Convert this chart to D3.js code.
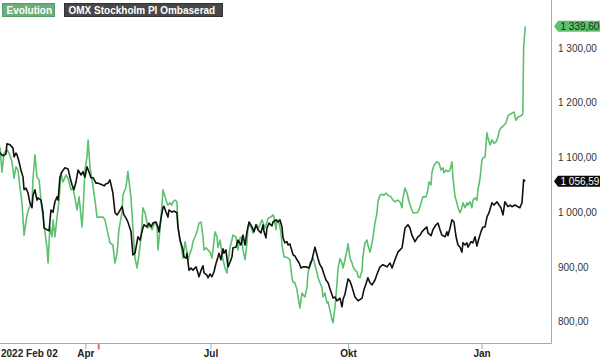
<!DOCTYPE html>
<html><head><meta charset="utf-8">
<script src="https://cdn.jsdelivr.net/npm/d3@7"></script>
<style>body{margin:0;background:#fff}svg{display:block;font-family:"Liberation Sans",Arial,sans-serif}</style>
</head><body><svg id="c" width="600" height="359"></svg>
<script>
// ---- data (x = trading day since 2022-02-02, y = index value) ----
const seriesNames = ["Evolution", "OMX Stockholm PI Ombaserad"];
const evolution = [[0,1118],[1.1,1117],[2.0,1073],[3.0,1108],[4.4,1114],[5.4,1108],[6.8,1092],[7.8,1062],[8.7,1083],[9.7,1077],[10.6,1046],[11.6,1017],[12.6,958],[14.0,995],[15.0,1008],[16.4,1017],[16.9,1062],[17.8,1105],[18.8,1064],[19.8,1059],[21.2,1004],[21.7,991],[22.6,964],[23.6,935],[24.1,907],[25.0,973],[26.0,955],[26.5,986],[27.4,955],[28.4,991],[29.4,1022],[30.3,1072],[31.3,1055],[32.7,1068],[33.7,1062],[35.1,1041],[36.1,1044],[37.0,1026],[38.0,1004],[39.0,1028],[40.4,973],[40.9,1004],[41.8,1077],[42.8,1101],[43.3,1132],[44.2,1083],[45.2,1059],[46.6,1022],[47.6,991],[49.0,991],[50.5,991],[51.4,986],[52.4,968],[53.8,944],[55.2,940],[56.2,907],[57.2,925],[58.1,968],[59.6,1000],[60.0,1031],[61.5,1046],[62.4,1074],[63.9,1026],[64.8,971],[65.8,916],[66.8,898],[67.7,922],[68.7,953],[69.6,1008],[70.6,999],[71.5,982],[72.0,971],[73.0,977],[74.0,968],[74.4,973],[75.4,982],[76.4,973],[76.8,931],[77.8,968],[78.8,1017],[79.2,1041],[80.2,1028],[81.1,1017],[81.6,1013],[82.6,1017],[83.5,1013],[84.0,1019],[85.0,1022],[85.9,1019],[86.4,973],[87.4,949],[88.3,931],[88.8,916],[89.8,946],[90.7,927],[91.2,913],[92.2,925],[93.1,935],[93.6,946],[94.6,955],[95.5,964],[96.5,980],[97.5,982],[98.4,955],[98.9,931],[99.9,935],[100.8,931],[101.8,927],[102.7,916],[103.2,931],[104.2,964],[105.1,955],[105.6,936],[106.6,949],[107.5,925],[108.0,913],[109.0,898],[109.9,889],[110.4,907],[111.4,936],[112.3,949],[112.8,958],[114.2,955],[115.2,931],[116.2,953],[117.1,955],[117.6,931],[118.6,913],[119.5,944],[120.0,973],[121.0,977],[121.9,968],[122.4,962],[123.4,971],[124.3,977],[124.8,968],[125.8,978],[126.7,986],[128.1,971],[129.1,982],[129.6,989],[131.0,991],[132.0,995],[132.5,991],[133.4,968],[133.9,986],[134.9,980],[135.8,964],[136.3,940],[137.3,918],[138.2,918],[139.2,916],[140.1,913],[141.1,880],[141.6,872],[142.5,871],[143.5,858],[144.0,845],[144.9,825],[145.9,852],[147.3,845],[148.3,863],[148.8,889],[149.7,907],[150.7,913],[151.2,916],[152.1,904],[153.1,889],[153.6,880],[154.5,871],[155.5,862],[156.0,845],[156.9,852],[157.9,834],[158.4,836],[159.3,821],[160.3,803],[160.8,798],[161.7,825],[162.7,871],[163.2,898],[164.1,915],[165.1,907],[165.6,898],[166.5,913],[167.5,931],[168.0,942],[168.9,916],[169.9,907],[170.4,900],[171.3,894],[172.3,891],[172.8,882],[173.7,880],[174.7,894],[175.1,918],[176.1,944],[177.1,949],[177.5,940],[178.5,927],[179.5,944],[179.9,953],[180.9,980],[181.9,999],[182.3,1019],[183.3,1031],[184.3,1033],[185.2,1031],[186.2,1035],[187.1,1031],[188.6,1028],[189.5,1022],[190.5,1019],[191.9,1022],[192.9,1019],[193.9,1008],[194.3,1026],[195.3,1044],[196.3,1035],[197.2,1019],[198.2,1008],[199.1,999],[200.6,999],[201.5,1000],[202.5,1010],[203.4,1022],[203.9,1028],[205.4,1028],[206.3,1041],[206.8,1055],[207.8,1050],[208.2,1072],[209.2,1086],[210.6,1092],[211.6,1090],[212.6,1077],[213.5,1081],[214.0,1072],[215.0,1077],[215.9,1074],[216.9,1077],[217.8,1092],[218.3,1064],[219.3,1028],[220.2,1017],[220.7,1008],[221.7,999],[222.6,1008],[223.1,1017],[224.1,1008],[225.0,1017],[225.5,1013],[226.5,1019],[227.4,1008],[227.9,1022],[228.9,1026],[229.8,1022],[230.3,1041],[231.3,1062],[232.2,1095],[232.7,1099],[233.7,1101],[234.6,1145],[235.1,1136],[236.1,1123],[237.0,1132],[238.0,1126],[238.9,1128],[239.9,1137],[240.4,1147],[241.3,1154],[242.3,1157],[243.7,1163],[244.7,1176],[245.7,1179],[246.6,1181],[247.6,1183],[248.5,1168],[249.5,1174],[250.9,1176],[251.8,1179],[252.2,1302],[253,1339.6]];
const omx = [[0,1112],[1.1,1108],[2.5,1103],[3.9,1106],[4.4,1125],[5.9,1123],[7.3,1117],[7.8,1101],[8.7,1108],[9.2,1105],[10.2,1092],[11.1,1077],[12.1,1064],[12.6,1041],[13.5,1044],[14.5,1035],[15.4,1017],[16.4,1008],[16.9,1031],[17.8,1041],[18.8,1022],[19.3,1026],[20.7,1022],[21.7,999],[22.2,971],[23.6,968],[24.6,966],[25.5,1004],[26.5,1000],[27.4,1019],[28.4,1028],[28.9,1022],[29.8,1064],[30.8,1074],[32.2,1081],[33.7,1079],[34.6,1064],[35.6,1050],[36.5,1041],[37.5,1055],[38.5,1077],[39.9,1068],[40.9,1074],[41.8,1064],[42.8,1083],[43.7,1074],[44.7,1063],[45.7,1063],[47.1,1053],[48.1,1053],[50.0,1050],[51.0,1048],[51.9,1052],[52.9,1053],[53.8,1059],[55.2,1035],[56.2,999],[57.2,995],[58.1,1000],[59.6,1010],[60.5,995],[61.5,989],[62.4,982],[63.9,964],[64.8,922],[65.8,925],[66.8,946],[67.2,955],[68.2,949],[69.6,971],[70.1,977],[71.5,973],[72.5,980],[73.5,973],[74.4,980],[75.9,982],[76.8,973],[77.3,964],[78.3,989],[79.2,1008],[79.7,1011],[80.7,1000],[81.6,991],[82.1,1004],[83.5,1000],[84.5,1002],[85.9,999],[86.4,973],[87.4,949],[88.8,931],[89.3,918],[90.3,916],[90.7,925],[91.7,894],[92.7,898],[93.6,894],[95.1,900],[96.0,889],[96.5,882],[97.5,894],[98.4,902],[98.9,889],[100.3,885],[100.8,880],[101.8,887],[102.7,882],[103.7,891],[104.7,907],[105.6,918],[106.1,925],[107.0,913],[108.0,933],[108.5,925],[109.4,931],[110.4,900],[111.4,909],[112.3,918],[112.8,935],[114.2,936],[115.2,949],[116.6,940],[117.6,958],[118.6,940],[119.5,964],[120.5,982],[121.9,973],[122.9,964],[123.8,977],[124.8,968],[126.2,962],[127.2,977],[127.7,964],[128.6,953],[129.1,971],[130.1,980],[131.5,975],[132.0,982],[133.4,986],[134.4,982],[135.3,986],[136.3,973],[136.8,953],[137.7,944],[138.7,946],[139.2,940],[140.1,942],[141.6,922],[142.5,920],[143.5,913],[144.5,907],[145.4,898],[146.4,900],[147.8,900],[149.3,898],[150.7,913],[152.1,936],[153.6,915],[154.5,904],[155.5,898],[156.4,887],[157.4,876],[158.4,871],[159.3,860],[160.8,843],[161.7,845],[162.7,838],[164.1,843],[165.1,827],[165.6,841],[166.5,850],[168.0,878],[168.9,874],[169.9,863],[171.3,845],[172.8,838],[174.7,843],[175.6,858],[176.6,869],[177.5,880],[178.5,871],[179.5,867],[180.9,876],[181.9,887],[183.3,900],[184.7,904],[185.7,902],[186.7,900],[188.1,907],[189.1,898],[190.5,913],[191.9,927],[192.9,931],[193.9,935],[195.3,971],[196.7,977],[197.7,971],[198.7,957],[200.1,946],[201.5,955],[202.5,958],[203.4,964],[204.4,968],[205.8,973],[206.3,962],[207.8,957],[208.7,968],[210.2,977],[211.1,980],[212.1,968],[213.0,958],[214.5,955],[215.4,964],[215.9,957],[216.9,971],[217.8,986],[218.8,982],[219.8,955],[220.7,940],[221.7,936],[222.6,927],[223.1,944],[224.1,940],[225.0,944],[225.5,936],[227.0,946],[227.9,944],[228.9,955],[229.8,938],[230.3,946],[231.7,964],[232.7,973],[233.7,973],[234.6,991],[235.6,999],[237.0,1017],[238.0,1013],[239.4,1019],[240.4,1013],[241.3,1008],[242.3,995],[243.2,1019],[244.7,1010],[245.7,1013],[246.6,1010],[248.0,1013],[249.5,1010],[250.4,1008],[251.4,1017],[252.2,1059],[253,1056.59]];
const xTickDays = [42, 102, 168, 232];
const xTickLabels = ["Apr", "Jul", "Okt", "Jan"];
const startLabel = "2022 Feb 02";
const yTicks = [800, 900, 1000, 1100, 1200, 1300];
const eventDays = [48.4];
const lastValues = [1339.60, 1056.59];

// ---- layout ----
const W = 600, H = 359;
const plotRight = 551.5, plotBottom = 343.5;
const green = "#5cc06e", black = "#111111", axisCol = "#8ab2c9";
const svg = d3.select("#c");
const x = d3.scaleLinear().domain([0, 240]).range([-2.2, 498.2]);
const y = d3.scaleLinear().domain([800, 1300]).range([321.6, 48]);
const loc = d3.formatLocale({decimal: ",", thousands: " ", grouping: [3], currency: ["", ""]});
const fmt = loc.format(",.2f");

svg.append("defs").append("clipPath").attr("id", "clip")
  .append("rect").attr("x", 0).attr("y", 0).attr("width", plotRight).attr("height", plotBottom);

const line = d3.line().x(d => x(d[0])).y(d => y(d[1]));
const pg = svg.append("g").attr("clip-path", "url(#clip)");
pg.append("path").datum(evolution).attr("d", line).attr("fill", "none")
  .attr("stroke", green).attr("stroke-width", 1.6).attr("stroke-linejoin", "round");
pg.append("path").datum(omx).attr("d", line).attr("fill", "none")
  .attr("stroke", black).attr("stroke-width", 1.6).attr("stroke-linejoin", "round");

// frame
svg.append("line").attr("x1", 0).attr("x2", plotRight).attr("y1", plotBottom).attr("y2", plotBottom)
  .attr("stroke", axisCol).attr("stroke-width", 1);
svg.append("line").attr("x1", plotRight).attr("x2", plotRight).attr("y1", 0).attr("y2", plotBottom)
  .attr("stroke", axisCol).attr("stroke-width", 1);

// bottom axis
const xa = svg.append("g").attr("transform", `translate(0,${plotBottom})`)
  .call(d3.axisBottom(x).tickValues(xTickDays).tickFormat((d, i) => xTickLabels[i]).tickSize(6).tickPadding(0));
xa.select(".domain").remove();
xa.selectAll(".tick line").attr("stroke", axisCol);
xa.selectAll(".tick text").attr("font-size", 10).attr("font-weight", "bold").attr("fill", "#222")
  .attr("font-family", "Liberation Sans, Arial, sans-serif");
svg.append("text").attr("x", 1).attr("y", 357).attr("font-size", 10).attr("font-weight", "bold")
  .attr("fill", "#222").text(startLabel);
svg.selectAll(".ev").data(eventDays).enter().append("line")
  .attr("x1", d => x(d)).attr("x2", d => x(d)).attr("y1", plotBottom + 0.5).attr("y2", plotBottom + 6)
  .attr("stroke", "#f06a6a").attr("stroke-width", 2);

// right axis
const ya = svg.append("g").attr("transform", `translate(${plotRight},0)`)
  .call(d3.axisRight(y).tickValues(yTicks).tickFormat(fmt).tickSize(0).tickPadding(6.5));
ya.select(".domain").remove();
ya.selectAll(".tick text").attr("font-size", 10).attr("fill", "#333")
  .attr("font-family", "Liberation Sans, Arial, sans-serif");

// last value badges
const badgeFill = [green, "#0a0a0a"], badgeText = ["#1d2b1d", "#ffffff"];
lastValues.forEach((v, i) => {
  const g = svg.append("g").attr("transform", `translate(554,${y(v)})`);
  g.append("path").attr("d", "M0,0 L4,-5.5 L48,-5.5 L48,5.5 L4,5.5 Z").attr("fill", badgeFill[i]);
  g.append("text").attr("x", 6.5).attr("dy", "0.35em").attr("font-size", 10)
    .attr("fill", badgeText[i]).text(fmt(v));
});

// legend
const legFill = ["#6aae7c", "#474747"], legStroke = ["#5a9a6b", "#333"];
const legX = [2.5, 64.5], legW = [52, 158];
seriesNames.forEach((n, i) => {
  svg.append("rect").attr("x", legX[i]).attr("y", 3.5).attr("width", legW[i]).attr("height", 13)
    .attr("fill", legFill[i]).attr("stroke", legStroke[i]).attr("stroke-width", 1);
  svg.append("text").attr("x", legX[i] + 4).attr("y", 14).attr("font-size", 10).attr("font-weight", "bold")
    .attr("fill", "#fff").text(n);
});
</script></body></html>
